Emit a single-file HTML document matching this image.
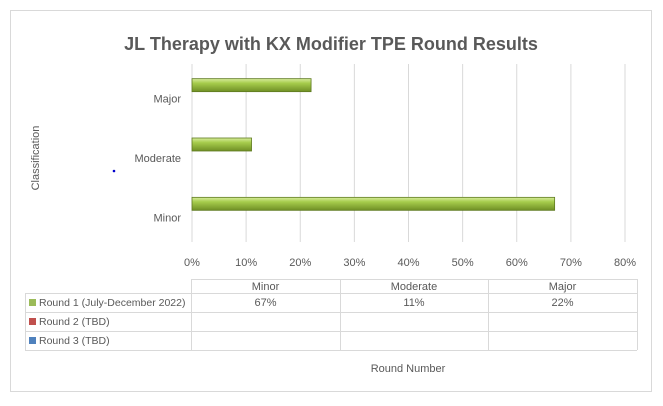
<!DOCTYPE html>
<html><head><meta charset="utf-8"><style>
html,body{margin:0;padding:0;background:#fff;width:663px;height:406px;overflow:hidden}
svg{display:block;font-family:"Liberation Sans",sans-serif}
</style></head><body>
<svg id="chart" width="663" height="406">
<defs>
<linearGradient id="g" x1="0" y1="0" x2="0" y2="1">
<stop offset="0" stop-color="#d7ec9c"/><stop offset="0.35" stop-color="#a6cc4c"/><stop offset="1" stop-color="#6f8f25"/>
</linearGradient>
</defs>
<rect x="10.5" y="10.5" width="641" height="381" fill="#fff" stroke="#d9d9d9"/>
<text x="331" y="50" text-anchor="middle" font-size="18" font-weight="bold" fill="#595959">JL Therapy with KX Modifier TPE Round Results</text>
<text transform="translate(39,158) rotate(-90)" text-anchor="middle" font-size="11" fill="#595959">Classification</text>
<circle cx="114" cy="171" r="1.3" fill="#0000cc"/>
<text x="408" y="372" text-anchor="middle" font-size="11" fill="#595959">Round Number</text>
<g id="grid"></g><g id="bars"></g><g id="table"></g>
</svg>
<script>
const categories = ["Minor","Moderate","Major"];
const round1 = [67, 11, 22];
const seriesNames = ["Round 1 (July-December 2022)","Round 2 (TBD)","Round 3 (TBD)"];
const seriesColors = ["#9bbb59","#c0504d","#4f81bd"];
const xTicks = [0,10,20,30,40,50,60,70,80];
const valueLabels = ["67%","11%","22%"];

const NS="http://www.w3.org/2000/svg";
const x0=192, x1=625, xMax=80, plotTop=64, plotBot=242;
const xs = v => x0 + (v/xMax)*(x1-x0);
const bandTop=64, bandH=(plotBot-bandTop)/categories.length;
const yc = i => bandTop + bandH*(categories.length-1-i) + bandH*0.5 - 15;
function mk(tag, attrs, parent, text){const e=document.createElementNS(NS,tag);for(const k in attrs)e.setAttribute(k,attrs[k]);if(text!==undefined)e.textContent=text;parent.appendChild(e);return e;}
const grid=document.getElementById('grid'), bars=document.getElementById('bars'), tbl=document.getElementById('table');
xTicks.forEach(t=>{
  const l=mk('line',{x1:xs(t),x2:xs(t),y1:plotTop,y2:plotBot,stroke:'#d9d9d9'},grid);
  
  
  const tx=mk('text',{x:xs(t),y:266,'text-anchor':'middle','font-size':11,fill:'#595959'},grid,t+'%');
  
  
});
categories.forEach((c,i)=>{
  const y=yc(i);
  const lb=mk('text',{x:181,y:y+24,'text-anchor':'end','font-size':11,fill:'#595959'},grid,c);
  
  
  const b=mk('rect',{x:x0,y:y,width:xs(round1[i])-x0,height:13,fill:'url(#g)',stroke:'#5f7a20','stroke-width':0.8},bars);
  
  
});
const colX=[191,340,488,637], rowY=[279,293,312,331,350], left=25;
const s='#d9d9d9';
mk('line',{x1:colX[0],x2:colX[3],y1:rowY[0]+.5,y2:rowY[0]+.5,stroke:s},tbl);
for(let r=1;r<rowY.length;r++) mk('line',{x1:left,x2:colX[3],y1:rowY[r]+.5,y2:rowY[r]+.5,stroke:s},tbl);
colX.forEach(x=>mk('line',{x1:x+.5,x2:x+.5,y1:rowY[0],y2:rowY[4],stroke:s},tbl));
mk('line',{x1:left+.5,x2:left+.5,y1:rowY[1],y2:rowY[4],stroke:s},tbl);
categories.forEach((c,i)=>{
  const h=mk('text',{x:(colX[i]+colX[i+1])/2,y:290,'text-anchor':'middle','font-size':11,fill:'#595959'},tbl,c);
  
  
  const v=mk('text',{x:(colX[i]+colX[i+1])/2,y:306,'text-anchor':'middle','font-size':11,fill:'#595959'},tbl,valueLabels[i]);
  
  
});
seriesNames.forEach((n,r)=>{
  const y=rowY[r+1];
  const k=mk('rect',{x:29,y:y+6,width:7,height:7,fill:seriesColors[r]},tbl);
  
  
  const t=mk('text',{x:39,y:y+13,'font-size':10.5,fill:'#595959'},tbl,n);
  
  
});
</script>
</body></html>
